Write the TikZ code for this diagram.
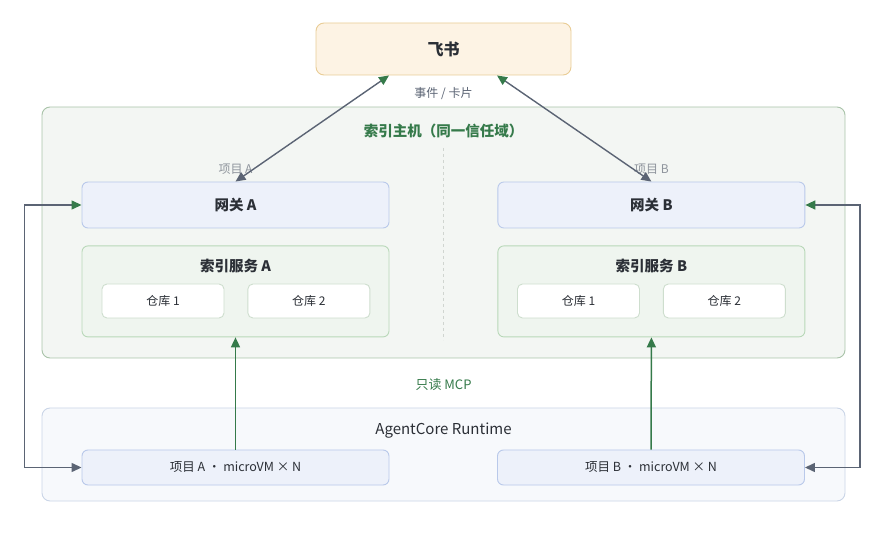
\documentclass[tikz,border=0pt]{standalone}
\usepackage{fontspec}
\setmainfont{Noto Sans CJK SC}
\usetikzlibrary{positioning,arrows.meta,calc}
\definecolor{textinchis}{HTML}{2B2F36}
\definecolor{verde}{HTML}{357A4A}
\definecolor{gri}{HTML}{5B6474}
\definecolor{grideschis}{HTML}{8E949C}
\definecolor{linie}{HTML}{D0D5D0}
\definecolor{fondfeishu}{HTML}{FDF3E4}
\definecolor{margfeishu}{HTML}{E9CC95}
\definecolor{fondgazda}{HTML}{F3F6F3}
\definecolor{marggazda}{HTML}{A9C3A9}
\definecolor{fondruntime}{HTML}{F7F9FC}
\definecolor{margruntime}{HTML}{CAD5E7}
\definecolor{fondalbastru}{HTML}{EDF1FA}
\definecolor{margalbastru}{HTML}{B9C9EA}
\definecolor{fondserviciu}{HTML}{EFF5EF}
\definecolor{margserviciu}{HTML}{B8D8B8}
\definecolor{margdepozit}{HTML}{CEDECE}
\tikzset{
  bloc/.style      = {draw, rounded corners=6pt, align=center, inner sep=0pt,
                      line width=0.9pt, text=textinchis},
  gateway/.style   = {bloc, fill=fondalbastru, draw=margalbastru,
                      minimum width=307pt, minimum height=46pt,
                      font=\fontsize{14.5}{16}\selectfont\bfseries},
  serviciu/.style  = {bloc, fill=fondserviciu, draw=margserviciu,
                      minimum width=307pt, minimum height=91pt},
  depozit/.style   = {bloc, fill=white, draw=margdepozit,
                      minimum width=122pt, minimum height=34pt, rounded corners=5pt,
                      font=\fontsize{12}{14}\selectfont},
  masina/.style    = {bloc, fill=fondalbastru, draw=margalbastru,
                      minimum width=307pt, minimum height=35pt,
                      font=\fontsize{12.5}{14}\selectfont},
  grup/.style      = {bloc, minimum width=803pt, rounded corners=8pt},
  eticheta/.style  = {font=\fontsize{12}{14}\selectfont, inner sep=1pt},
  titlu/.style     = {font=\fontsize{14.5}{16}\selectfont\bfseries, inner sep=0pt, text=textinchis},
  sageata/.style   = {draw=gri, line width=1.4pt,
                      {Triangle[length=10pt,width=9pt,color=gri]}-{Triangle[length=10pt,width=9pt,color=verde]}},
  urcare/.style    = {draw=verde, line width=1.5pt, -{Triangle[length=10pt,width=9pt]}}
}
\begin{document}
\begin{tikzpicture}[x=1pt,y=-1pt]
  \useasboundingbox (0,0) rectangle (887,537);

  % containere
  \node[grup, fill=fondgazda, draw=marggazda, minimum height=251pt] (gazda) at (443.5,232.5) {};
  \node[grup, fill=fondruntime, draw=margruntime, minimum height=93pt] (runtime) at (443.5,454.5) {};
  \node[titlu, text=verde] (titlugazda) at (443.5,131) {索引主机（同一信任域）};
  \node[titlu, font=\fontsize{15}{17}\selectfont] (titluruntime) at (443.5,431) {AgentCore Runtime};
  \draw[linie, dashed, line width=0.8pt] (443.5,148) -- (443.5,340);

  % sus
  \node[bloc, fill=fondfeishu, draw=margfeishu, minimum width=255pt, minimum height=52pt,
        rounded corners=8pt, font=\fontsize{16}{18}\selectfont\bfseries] (feishu) at (443.5,49) {飞书};
  \node[eticheta, text=gri] (evenimente) at (443.5,94) {事件 / 卡片};

  % proiect A
  \node[gateway] (gwA) at (235.5,205) {网关 A};
  \node[serviciu, below=17pt of gwA] (svcA) {};
  \node[titlu, below=13pt of svcA.north] (titluA) {索引服务 A};
  \node[depozit] (repoA1) at (163,301) {仓库 1};
  \node[depozit, right=23pt of repoA1] (repoA2) {仓库 2};
  \node[masina] (vmA) at (235.5,467.5) {项目 A · microVM × N};
  \node[eticheta, text=grideschis, above=6pt of gwA] (proiectA) {项目 A};

  % proiect B
  \node[gateway, right=108pt of gwA] (gwB) {网关 B};
  \node[serviciu, below=17pt of gwB] (svcB) {};
  \node[titlu, below=13pt of svcB.north] (titluB) {索引服务 B};
  \node[depozit] (repoB1) at (578.5,301) {仓库 1};
  \node[depozit, right=23pt of repoB1] (repoB2) {仓库 2};
  \node[masina] (vmB) at (651,467.5) {项目 B · microVM × N};
  \node[eticheta, text=grideschis, above=6pt of gwB] (proiectB) {项目 B};

  \node[eticheta, text=verde, font=\fontsize{13}{15}\selectfont] (mcp) at (443.5,385) {只读 MCP};

  % legaturi
  \draw[sageata] (gwA.north) -- ($(feishu.south)+(-54.5,0)$);
  \draw[sageata] (gwB.north) -- ($(feishu.south)+(53.5,0)$);
  \draw[urcare] (vmA.north) -- (svcA.south);
  \draw[urcare] (vmB.north) -- (svcB.south);
  \draw[sageata] (vmA.west) -- ++(-57,0) |- (gwA.west);
  \draw[sageata] (vmB.east) -- ++(55,0) |- (gwB.east);
\end{tikzpicture}
\end{document}
